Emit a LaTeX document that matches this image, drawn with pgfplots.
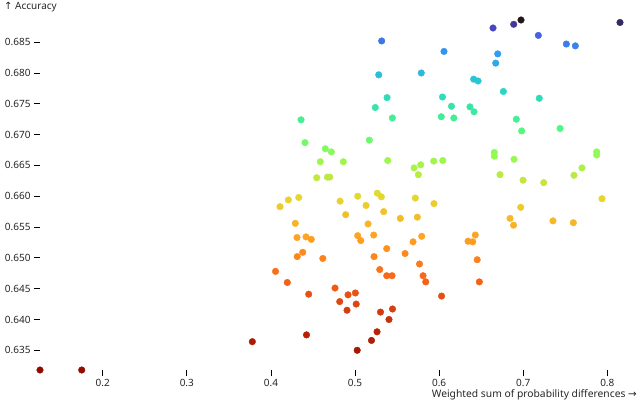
\documentclass[border=0pt]{standalone}
\usepackage{fontspec}
\setmainfont{Noto Sans}
\newfontfamily\arrowfont{DejaVu Sans}
\usepackage{pgfplots}
\usepackage{pgfplotstable}
\pgfplotsset{compat=1.18}

% weighted sum of probability differences vs accuracy
\pgfplotstableread{
x y
0.1254 0.6318
0.1750 0.6318
0.3779 0.6364
0.4423 0.6375
0.5026 0.6350
0.5196 0.6366
0.5262 0.6380
0.5303 0.6412
0.5404 0.6400
0.5446 0.6417
0.4905 0.6415
0.5014 0.6425
0.4818 0.6429
0.4762 0.6451
0.4917 0.6440
0.5004 0.6443
0.4449 0.6441
0.4195 0.6460
0.4055 0.6478
0.4313 0.6502
0.4378 0.6509
0.4617 0.6499
0.5226 0.6502
0.5294 0.6481
0.5377 0.6471
0.5440 0.6471
0.5595 0.6507
0.5767 0.6490
0.5809 0.6471
0.5841 0.6461
0.6029 0.6438
0.6453 0.6497
0.6478 0.6461
0.6430 0.6537
0.6344 0.6527
0.6400 0.6526
0.4310 0.6533
0.4417 0.6534
0.4480 0.6530
0.5032 0.6536
0.5068 0.6528
0.5222 0.6537
0.5377 0.6515
0.5690 0.6526
0.5793 0.6535
0.4290 0.6556
0.4108 0.6583
0.4207 0.6594
0.4331 0.6598
0.4822 0.6592
0.5032 0.6600
0.5265 0.6605
0.5313 0.6599
0.5131 0.6585
0.4889 0.6570
0.5341 0.6575
0.5155 0.6555
0.5539 0.6564
0.5741 0.6566
0.5717 0.6597
0.5939 0.6588
0.6970 0.6582
0.6843 0.6564
0.6885 0.6553
0.7354 0.6560
0.7596 0.6557
0.7937 0.6596
0.4405 0.6687
0.4647 0.6677
0.4718 0.6672
0.4587 0.6656
0.4861 0.6656
0.4545 0.6630
0.4671 0.6631
0.4699 0.6631
0.5170 0.6691
0.5389 0.6658
0.5702 0.6646
0.5781 0.6651
0.5753 0.6635
0.5936 0.6657
0.6044 0.6658
0.6656 0.6671
0.6656 0.6665
0.6891 0.6660
0.6724 0.6635
0.6998 0.6626
0.7244 0.6622
0.7604 0.6634
0.7699 0.6646
0.7874 0.6672
0.7874 0.6667
0.4358 0.6724
0.5444 0.6727
0.5241 0.6744
0.5381 0.6760
0.5282 0.6797
0.5317 0.6852
0.5788 0.6800
0.6058 0.6835
0.6040 0.6761
0.6026 0.6729
0.6147 0.6746
0.6175 0.6727
0.6367 0.6745
0.6415 0.6737
0.6411 0.6790
0.6463 0.6787
0.6764 0.6770
0.6697 0.6831
0.6673 0.6816
0.7191 0.6759
0.6918 0.6725
0.6982 0.6706
0.7438 0.6710
0.6641 0.6873
0.6887 0.6879
0.6974 0.6886
0.7180 0.6861
0.7513 0.6847
0.7620 0.6844
0.8151 0.6882
}\runs

% turbo, reversed, stretched over accuracy
\pgfplotsset{
  colormap={turbor}{
    rgb255(0pt)=(144,12,0);
    rgb255(62pt)=(186,34,8);
    rgb255(141pt)=(246,95,24);
    rgb255(217pt)=(255,164,35);
    rgb255(282pt)=(228,216,48);
    rgb255(347pt)=(149,251,81);
    rgb255(392pt)=(77,248,132);
    rgb255(452pt)=(39,215,196);
    rgb255(513pt)=(47,157,245);
    rgb255(549pt)=(74,88,221);
    rgb255(561pt)=(70,54,153);
    rgb255(568pt)=(35,23,27)
  }
}

\begin{document}
\begin{tikzpicture}
\path[use as bounding box] (0,0) rectangle (640bp,400bp);
\begin{axis}[
    at={(40bp,30bp)}, anchor=south west,
    scale only axis,
    width=580bp, height=350bp,
    xmin=0.1254, xmax=0.8151,
    ymin=0.6318, ymax=0.6886,
    clip=false,
    axis lines*=left,
    axis line style={draw=none},
    tick align=outside,
    major tick length=6bp,
    tick style={black, line width=0.8bp},
    xtick={0.2,0.3,0.4,0.5,0.6,0.7,0.8},
    ytick={0.635,0.64,0.645,0.65,0.655,0.66,0.665,0.67,0.675,0.68,0.685},
    /pgf/number format/assume math mode=true,
    tick label style={font=\fontsize{10bp}{12bp}\selectfont, text=black!85},
    xticklabel style={/pgf/number format/.cd, fixed, fixed zerofill, precision=1},
    yticklabel style={/pgf/number format/.cd, fixed, fixed zerofill, precision=3},
    colormap name=turbor,
    point meta min=0.6318, point meta max=0.6886,
]
\addplot[scatter, only marks, mark=*, mark size=3.3bp, point meta=y,
    scatter/use mapped color={draw=mapped color, fill=mapped color}] table {\runs};
\end{axis}
\node[anchor=base west, inner sep=0, font=\fontsize{10bp}{12bp}\selectfont, text=black!85]
    at (4bp,390bp) {{\arrowfont ↑} Accuracy};
\node[anchor=base east, inner sep=0, font=\fontsize{10.3bp}{12bp}\selectfont, text=black!85]
    at (637bp,3bp) {Weighted sum of probability differences {\arrowfont →}};
\end{tikzpicture}
\end{document}
